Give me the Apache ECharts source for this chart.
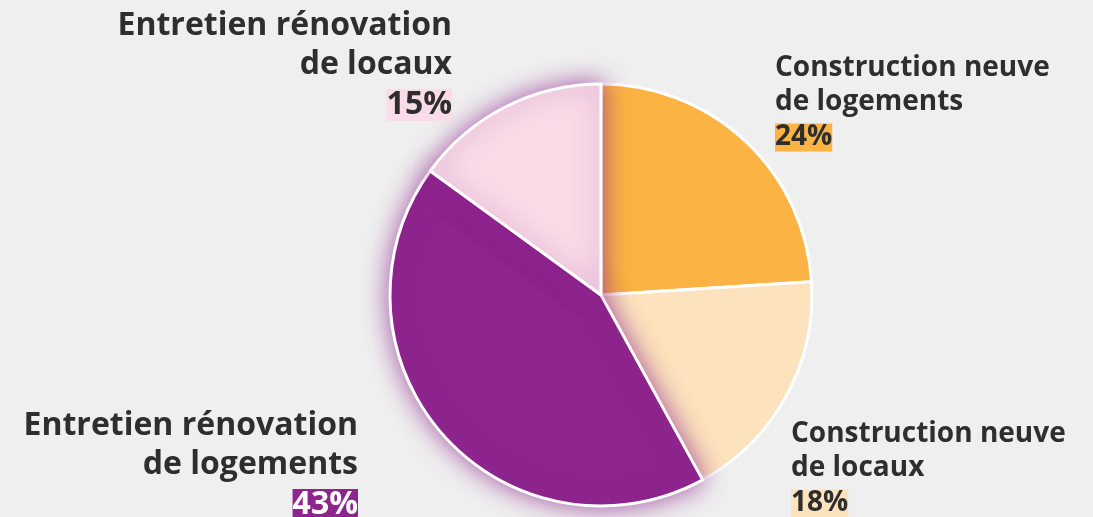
<!DOCTYPE html>
<html><head><meta charset="utf-8">
<script src="https://cdn.jsdelivr.net/npm/echarts@6/dist/echarts.min.js"></script>
<style>html,body{margin:0;padding:0;background:#efefef;}#c{width:1093px;height:517px;}</style>
</head><body><div id="c"></div>
<script>
const categories = ['Construction neuve\nde logements', 'Construction neuve\nde locaux', 'Entretien rénovation\nde logements', 'Entretien rénovation\nde locaux'];
const values = [24, 18, 43, 15];
const colors = ['#fbb444', '#fce3bd', '#8e258d', '#f9dce8'];
const pctTextColors = ['#2e2e2e', '#2e2e2e', '#ffffff', '#2e2e2e'];
const hasShadow = [false, false, true, true];
// label placement (style only)
const labelPos = [
  {x: 775, y: 51, align: 'left', size: 28, lh: 34, plh: 37},
  {x: 791, y: 417, align: 'left', size: 28, lh: 34, plh: 37},
  {x: 358, y: 406, align: 'right', size: 32, lh: 39, plh: 42},
  {x: 452, y: 6, align: 'right', size: 32, lh: 39, plh: 42}
];

const data = categories.map((name, i) => {
  const lp = labelPos[i];
  return {
    name: name,
    value: values[i],
    itemStyle: Object.assign({color: colors[i]}, hasShadow[i] ? {shadowBlur: 24, shadowColor: 'rgba(142,37,141,0.75)'} : {}),
    label: {
      align: lp.align,
      rich: {
        n: {fontFamily: 'Open Sans', fontWeight: 'bold', fontSize: lp.size, lineHeight: lp.lh, color: '#2e2e2e', align: lp.align},
        p: {fontFamily: 'Open Sans', fontWeight: 'bold', fontSize: lp.size, lineHeight: lp.plh, color: pctTextColors[i], backgroundColor: colors[i], align: lp.align}
      }
    }
  };
});

const chart = echarts.init(document.getElementById('c'));
chart.setOption({
  backgroundColor: '#efefef',
  animation: false,
  series: [{
    type: 'pie',
    center: [601, 295],
    radius: 211,
    startAngle: 90,
    clockwise: true,
    data: data,
    itemStyle: {borderColor: '#ffffff', borderWidth: 3},
    labelLine: {show: false},
    label: {
      show: true,
      position: 'outside',
      overflow: 'none',
      formatter: function (p) {
        const lines = p.name.split('\n').map(s => '{n|' + s + '}').join('\n');
        return lines + '\n{p|' + p.value + '%}';
      }
    },
    labelLayout: function (params) {
      const lp = labelPos[params.dataIndex];
      return {x: lp.x, y: lp.y, align: lp.align, verticalAlign: 'top', hideOverlap: false};
    }
  }]
});
</script>
</body></html>
